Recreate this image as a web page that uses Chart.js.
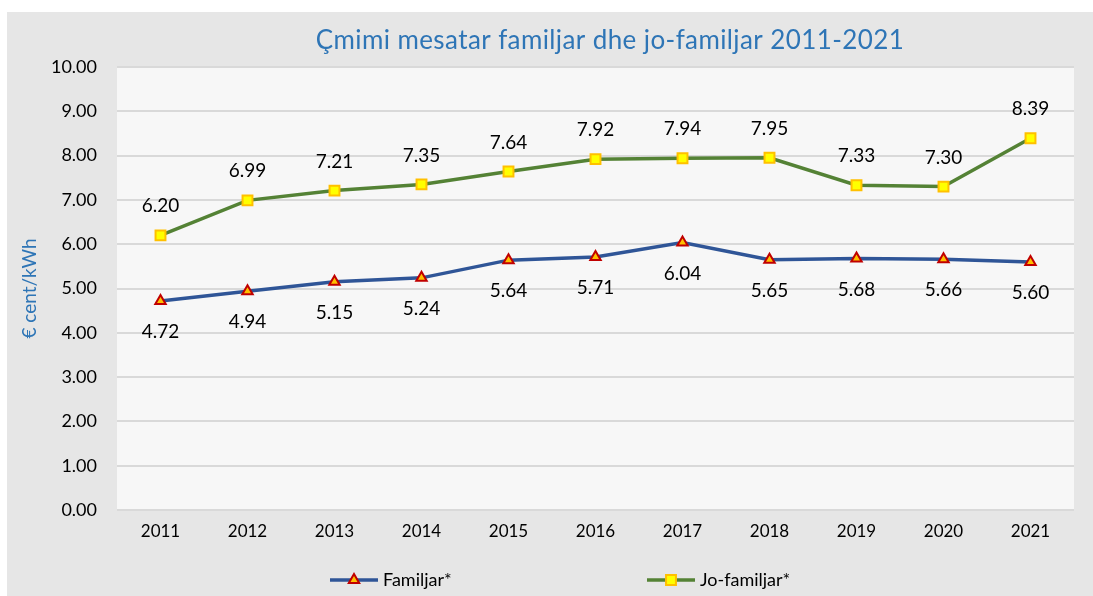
<!DOCTYPE html>
<html>
<head>
<meta charset="utf-8">
<script src="https://cdn.jsdelivr.net/npm/chart.js@4"></script>
<style>
  body { margin: 0; background: #fff; }
  #wrap { width: 1093px; height: 596px; }
</style>
</head>
<body>
<div id="wrap"><canvas id="myChart" width="1093" height="596"></canvas></div>
<script>
// data
const years = ["2011", "2012", "2013", "2014", "2015", "2016", "2017", "2018", "2019", "2020", "2021"];
const familjar = [4.72, 4.94, 5.15, 5.24, 5.64, 5.71, 6.04, 5.65, 5.68, 5.66, 5.6];
const joFamiljar = [6.2, 6.99, 7.21, 7.35, 7.64, 7.92, 7.94, 7.95, 7.33, 7.3, 8.39];
const seriesNames = ["Familjar*", "Jo-familjar*"];
const chartTitle = "Çmimi mesatar familjar dhe jo-familjar 2011-2021";
const yTitle = "€ cent/kWh";

const FONT = "Lato, 'Noto Sans', sans-serif";
const blue = "#2f5597";
const green = "#548235";

//background panel + plot area
const bgPlugin = {
  id: "bg",
  beforeDraw(chart) {
    const c = chart.ctx;
    const a = chart.chartArea;
    c.save();
    c.fillStyle = "#e6e6e6";
    c.fillRect(7, 12, chart.width - 7, chart.height - 12);
    c.fillStyle = "#f7f7f7";
    c.fillRect(a.left, a.top, a.right - a.left, a.bottom - a.top);
    c.restore();
  },
};

//value labels, title and legend
const labelPlugin = {
  id: "labels",
  afterDatasetsDraw(chart) {
    const c = chart.ctx;
    c.save();
    c.font = "19px " + FONT;
    c.fillStyle = "#000";
    c.textAlign = "center";
    c.textBaseline = "middle";
    chart.data.datasets.forEach((ds, i) => {
      const meta = chart.getDatasetMeta(i);
      meta.data.forEach((pt, j) => {
        const dy = i === 0 ? 31 : -29;
        c.fillText(ds.data[j].toFixed(2), pt.x, pt.y + dy);
      });
    });
    // title
    c.font = "26px " + FONT;
    c.letterSpacing = "0.4px";
    c.fillStyle = "#2e75b6";
    c.fillText(chartTitle, 610, 41);
    c.letterSpacing = "0px";
    // legend
    const ly = 580;
    const items = [330, 647];
    chart.data.datasets.forEach((ds, i) => {
      const x0 = items[i];
      c.strokeStyle = ds.borderColor;
      c.lineWidth = 3.5;
      c.beginPath();
      c.moveTo(x0, ly);
      c.lineTo(x0 + 48, ly);
      c.stroke();
      c.fillStyle = ds.pointBackgroundColor;
      c.strokeStyle = ds.pointBorderColor;
      c.lineWidth = ds.pointBorderWidth;
      c.beginPath();
      if (ds.pointStyle === "triangle") {
        const r = ds.pointRadius;
        c.moveTo(x0 + 24, ly - r);
        c.lineTo(x0 + 24 + r * 0.866, ly + r * 0.5);
        c.lineTo(x0 + 24 - r * 0.866, ly + r * 0.5);
        c.closePath();
      } else {
        const s = ds.pointRadius / Math.SQRT2;
        c.rect(x0 + 24 - s, ly - s, 2 * s, 2 * s);
      }
      c.fill();
      c.stroke();
      c.fillStyle = "#000";
      c.font = "18px " + FONT;
      c.textAlign = "left";
      c.fillText(ds.label, x0 + 53, ly);
    });
    c.restore();
  },
};

const ctx = document.getElementById("myChart").getContext("2d");
const myChart = new Chart(ctx, {
  type: "line",
  data: {
    labels: years,
    datasets: [
      {
        label: seriesNames[0],
        data: familjar,
        borderColor: blue,
        borderWidth: 3.5,
        pointStyle: "triangle",
        pointRadius: 6,
        pointBorderWidth: 2,
        pointBackgroundColor: "#ffc000",
        pointBorderColor: "#c00000",
        tension: 0,
      },
      {
        label: seriesNames[1],
        data: joFamiljar,
        borderColor: green,
        borderWidth: 3.5,
        pointStyle: "rect",
        pointRadius: 7,
        pointBorderWidth: 2,
        pointBackgroundColor: "#ffff00",
        pointBorderColor: "#ffc000",
        tension: 0,
      },
    ],
  },
  options: {
    responsive: false,
    animation: false,
    layout: { padding: { left: 15, top: 67, right: 19, bottom: 0 } },
    plugins: {
      legend: { display: false },
      title: { display: false },
      tooltip: { enabled: false },
    },
    scales: {
      x: {
        offset: true,
        grid: { display: false, drawTicks: false },
        border: { display: false },
        ticks: { color: "#000", font: { family: FONT, size: 17 }, padding: 11 },
        afterFit(s) { s.height = 86; },
      },
      y: {
        min: 0,
        max: 10,
        ticks: {
          stepSize: 1,
          color: "#000",
          font: { family: FONT, size: 18 },
          padding: 20,
          callback: (v) => v.toFixed(2),
        },
        grid: { color: "#d9d9d9", lineWidth: 2, drawTicks: false },
        border: { display: false },
        title: {
          display: true,
          text: yTitle,
          color: "#2e75b6",
          font: { family: FONT, size: 19 },
          padding: { top: 3, bottom: 0 },
        },
        afterFit(s) { s.width = 102; },
      },
    },
  },
  plugins: [bgPlugin, labelPlugin],
});
</script>
</body>
</html>
